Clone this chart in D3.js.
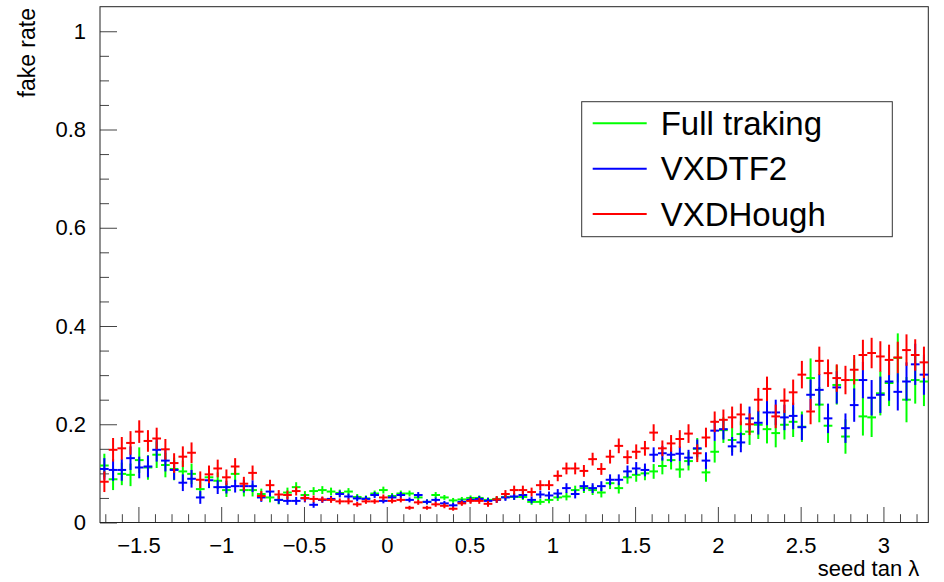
<!DOCTYPE html>
<html>
<head>
<meta charset="utf-8">
<script src="https://cdn.jsdelivr.net/npm/d3@7"></script>
<style>
  body { margin: 0; background: #fff; }
  text { font-family: "Liberation Sans", Arial, Helvetica, sans-serif; }
</style>
</head>
<body>
<div id="chart-container"></div>
<script>
// histogram binning (seed tan lambda)
const xRange = [-1.732, 3.271];
const nBins = 95;

const seriesNames = ["Full traking", "VXDTF2", "VXDHough"];
const seriesColors = ["#00ff00", "#0000ff", "#ff0000"];

// fake rate per bin
const fullTraking = [
  0.116, 0.088, 0.099, 0.097, 0.127, 0.112, 0.138, 0.117, 0.109, 0.104,
  0.099, 0.068, 0.092, 0.085, 0.066, 0.099, 0.066, 0.066, 0.058, 0.051,
  0.046, 0.061, 0.072, 0.056, 0.064, 0.066, 0.063, 0.060, 0.063, 0.052,
  0.049, 0.059, 0.066, 0.054, 0.059, 0.059, 0.051, 0.042, 0.056, 0.051,
  0.045, 0.047, 0.050, 0.050, 0.046, 0.048, 0.052, 0.052, 0.052, 0.042,
  0.042, 0.046, 0.051, 0.053, 0.066, 0.070, 0.066, 0.061, 0.080, 0.070,
  0.092, 0.097, 0.100, 0.104, 0.115, 0.127, 0.108, 0.125, 0.150, 0.102,
  0.144, 0.188, 0.168, 0.180, 0.185, 0.199, 0.190, 0.182, 0.199, 0.205,
  0.195, 0.294, 0.240, 0.197, 0.280, 0.175, 0.290, 0.216, 0.214, 0.263,
  0.284, 0.335, 0.250, 0.290, 0.287
];
const vxdtf2 = [
  0.109, 0.107, 0.107, 0.131, 0.112, 0.114, 0.148, 0.126, 0.107, 0.081,
  0.089, 0.051, 0.086, 0.072, 0.072, 0.074, 0.074, 0.074, 0.051, 0.063,
  0.046, 0.044, 0.044, 0.049, 0.036, 0.046, 0.048, 0.058, 0.053, 0.049,
  0.048, 0.056, 0.044, 0.051, 0.056, 0.046, 0.056, 0.042, 0.046, 0.039,
  0.035, 0.042, 0.046, 0.048, 0.044, 0.046, 0.051, 0.053, 0.056, 0.046,
  0.057, 0.055, 0.059, 0.070, 0.058, 0.074, 0.070, 0.074, 0.087, 0.087,
  0.104, 0.110, 0.107, 0.138, 0.141, 0.138, 0.140, 0.132, 0.151, 0.126,
  0.187, 0.190, 0.155, 0.163, 0.212, 0.203, 0.224, 0.224, 0.214, 0.217,
  0.194, 0.260, 0.270, 0.212, 0.275, 0.192, 0.239, 0.290, 0.254, 0.260,
  0.287, 0.266, 0.287, 0.322, 0.301
];
const vxdHough = [
  0.083, 0.148, 0.151, 0.162, 0.185, 0.166, 0.171, 0.149, 0.121, 0.134,
  0.142, 0.087, 0.098, 0.110, 0.092, 0.114, 0.079, 0.101, 0.054, 0.076,
  0.057, 0.056, 0.064, 0.050, 0.048, 0.047, 0.046, 0.043, 0.043, 0.037,
  0.043, 0.043, 0.051, 0.044, 0.046, 0.030, 0.041, 0.030, 0.037, 0.034,
  0.028, 0.039, 0.044, 0.044, 0.038, 0.047, 0.058, 0.066, 0.066, 0.062,
  0.076, 0.076, 0.095, 0.110, 0.110, 0.105, 0.129, 0.109, 0.134, 0.156,
  0.133, 0.144, 0.151, 0.183, 0.151, 0.161, 0.170, 0.181, 0.141, 0.173,
  0.205, 0.209, 0.214, 0.220, 0.200, 0.250, 0.272, 0.216, 0.248, 0.265,
  0.301, 0.226, 0.329, 0.304, 0.294, 0.290, 0.311, 0.341, 0.345, 0.338,
  0.331, 0.336, 0.351, 0.341, 0.326
];

// errors per bin
const fullTrakingErr = [
  0.024, 0.022, 0.023, 0.023, 0.026, 0.025, 0.027, 0.025, 0.023, 0.022,
  0.021, 0.016, 0.018, 0.017, 0.014, 0.016, 0.013, 0.013, 0.011, 0.010,
  0.009, 0.010, 0.010, 0.008, 0.008, 0.008, 0.008, 0.007, 0.007, 0.006,
  0.006, 0.006, 0.007, 0.006, 0.006, 0.006, 0.006, 0.005, 0.006, 0.005,
  0.005, 0.005, 0.005, 0.005, 0.005, 0.005, 0.006, 0.006, 0.006, 0.006,
  0.006, 0.007, 0.007, 0.008, 0.009, 0.010, 0.010, 0.010, 0.012, 0.011,
  0.013, 0.014, 0.014, 0.015, 0.017, 0.019, 0.017, 0.019, 0.022, 0.019,
  0.022, 0.026, 0.025, 0.026, 0.027, 0.029, 0.029, 0.029, 0.030, 0.031,
  0.031, 0.040, 0.036, 0.035, 0.040, 0.035, 0.042, 0.039, 0.040, 0.045,
  0.047, 0.050, 0.046, 0.048, 0.050
];
const vxdtf2Err = [
  0.022, 0.022, 0.022, 0.024, 0.022, 0.022, 0.024, 0.022, 0.020, 0.017,
  0.018, 0.013, 0.016, 0.014, 0.013, 0.013, 0.013, 0.012, 0.009, 0.010,
  0.008, 0.008, 0.008, 0.008, 0.006, 0.006, 0.006, 0.007, 0.006, 0.006,
  0.006, 0.006, 0.005, 0.006, 0.006, 0.005, 0.006, 0.005, 0.005, 0.005,
  0.005, 0.005, 0.006, 0.006, 0.006, 0.006, 0.007, 0.007, 0.008, 0.007,
  0.008, 0.008, 0.009, 0.010, 0.009, 0.010, 0.010, 0.010, 0.011, 0.011,
  0.012, 0.013, 0.013, 0.015, 0.015, 0.015, 0.015, 0.016, 0.018, 0.017,
  0.021, 0.021, 0.019, 0.020, 0.024, 0.024, 0.026, 0.026, 0.026, 0.027,
  0.026, 0.031, 0.032, 0.030, 0.033, 0.030, 0.034, 0.037, 0.036, 0.037,
  0.039, 0.038, 0.039, 0.042, 0.041
];
const vxdHoughErr = [
  0.021, 0.024, 0.023, 0.024, 0.023, 0.022, 0.022, 0.021, 0.020, 0.021,
  0.021, 0.017, 0.018, 0.018, 0.016, 0.017, 0.014, 0.015, 0.010, 0.011,
  0.009, 0.009, 0.009, 0.007, 0.007, 0.006, 0.006, 0.006, 0.006, 0.005,
  0.005, 0.005, 0.006, 0.005, 0.005, 0.004, 0.005, 0.004, 0.005, 0.005,
  0.004, 0.005, 0.006, 0.006, 0.006, 0.007, 0.008, 0.009, 0.009, 0.009,
  0.010, 0.010, 0.011, 0.012, 0.012, 0.012, 0.013, 0.012, 0.014, 0.015,
  0.014, 0.015, 0.015, 0.017, 0.016, 0.017, 0.018, 0.019, 0.018, 0.020,
  0.021, 0.021, 0.022, 0.022, 0.022, 0.024, 0.025, 0.024, 0.025, 0.026,
  0.028, 0.026, 0.029, 0.028, 0.028, 0.029, 0.030, 0.031, 0.031, 0.031,
  0.031, 0.032, 0.032, 0.032, 0.032
];

// tick labels
const xTicks = [-1.5, -1, -0.5, 0, 0.5, 1, 1.5, 2, 2.5, 3];
const yTicks = [0, 0.2, 0.4, 0.6, 0.8, 1];
const yMax = 1.05;

const width = 944, height = 582;
const frame = { left: 100, right: 928.3, top: 6.7, bottom: 522.5 };

const svg = d3.select("#chart-container")
  .append("svg")
  .attr("width", width)
  .attr("height", height);

const x = d3.scaleLinear().domain(xRange).range([frame.left, frame.right]);
const y = d3.scaleLinear().domain([0, yMax]).range([frame.bottom, frame.top]);
const binW = (xRange[1] - xRange[0]) / nBins;

// minor ticks, ROOT style (inside the frame)
const xMinor = d3.range(-17, 33).map((k) => k / 10).filter((v) => !xTicks.includes(v));
const yMinor = d3.range(1, 21).map((k) => k / 20).filter((v) => !yTicks.some((t) => Math.abs(t - v) < 1e-9));

const xAxisG = svg.append("g")
  .attr("transform", `translate(0,${frame.bottom})`)
  .call(d3.axisBottom(x).tickValues(xTicks).tickFormat(d3.format("")).tickSize(-15.5).tickSizeOuter(0).tickPadding(15));
svg.append("g")
  .attr("transform", `translate(0,${frame.bottom})`)
  .call(d3.axisBottom(x).tickValues(xMinor).tickFormat("").tickSize(-8.3).tickSizeOuter(0));

const yAxisG = svg.append("g")
  .attr("transform", `translate(${frame.left},0)`)
  .call(d3.axisLeft(y).tickValues(yTicks).tickFormat(d3.format("")).tickSize(-17).tickSizeOuter(0).tickPadding(14));
svg.append("g")
  .attr("transform", `translate(${frame.left},0)`)
  .call(d3.axisLeft(y).tickValues(yMinor).tickFormat("").tickSize(-9).tickSizeOuter(0));

svg.selectAll(".domain").remove();
svg.selectAll(".tick line").attr("stroke", "#444").attr("stroke-width", 1);
svg.selectAll(".tick text").attr("fill", "#000").style("font-size", "22px");

// frame
svg.append("rect")
  .attr("x", frame.left).attr("y", frame.top)
  .attr("width", frame.right - frame.left)
  .attr("height", frame.bottom - frame.top)
  .attr("fill", "none").attr("stroke", "#222").attr("stroke-width", 1);

// error-bar crosses for each histogram
const series = [
  { name: seriesNames[0], values: fullTraking, errs: fullTrakingErr, color: seriesColors[0] },
  { name: seriesNames[1], values: vxdtf2, errs: vxdtf2Err, color: seriesColors[1] },
  { name: seriesNames[2], values: vxdHough, errs: vxdHoughErr, color: seriesColors[2] }
];

series.forEach((s) => {
  const bins = s.values.map((v, i) => ({
    lo: xRange[0] + i * binW,
    hi: xRange[0] + (i + 1) * binW,
    v: v,
    e: s.errs[i]
  }));
  const g = svg.append("g").attr("stroke", s.color).attr("stroke-width", 2);
  // horizontal (bin width)
  g.selectAll(".h")
    .data(bins)
    .enter()
    .append("line")
    .attr("x1", (d) => x(d.lo))
    .attr("x2", (d) => x(d.hi))
    .attr("y1", (d) => y(d.v))
    .attr("y2", (d) => y(d.v));
  // vertical (error)
  g.selectAll(".v")
    .data(bins)
    .enter()
    .append("line")
    .attr("x1", (d) => x((d.lo + d.hi) / 2))
    .attr("x2", (d) => x((d.lo + d.hi) / 2))
    .attr("y1", (d) => y(Math.max(0, d.v - d.e)))
    .attr("y2", (d) => y(d.v + d.e));
});

// legend
const legend = svg.append("g");
legend.append("rect")
  .attr("x", 581.7).attr("y", 101.7)
  .attr("width", 310.6).attr("height", 135)
  .attr("fill", "#fff").attr("stroke", "#333").attr("stroke-width", 1);
series.forEach((s, i) => {
  const ly = 123.3 + i * 45.4;
  legend.append("line")
    .attr("x1", 592.7).attr("x2", 646.7)
    .attr("y1", ly).attr("y2", ly)
    .attr("stroke", s.color).attr("stroke-width", 2);
  legend.append("text")
    .attr("x", 660.7).attr("y", ly + 11.7)
    .style("font-size", "33px")
    .text(s.name);
});

// axis titles
svg.append("text")
  .attr("transform", "translate(35,8) rotate(-90)")
  .attr("text-anchor", "end")
  .style("font-size", "23px")
  .text("fake rate");

svg.append("text")
  .attr("x", 919.3).attr("y", 576)
  .attr("text-anchor", "end")
  .style("font-size", "22px")
  .text("seed tan λ");
</script>
</body>
</html>
